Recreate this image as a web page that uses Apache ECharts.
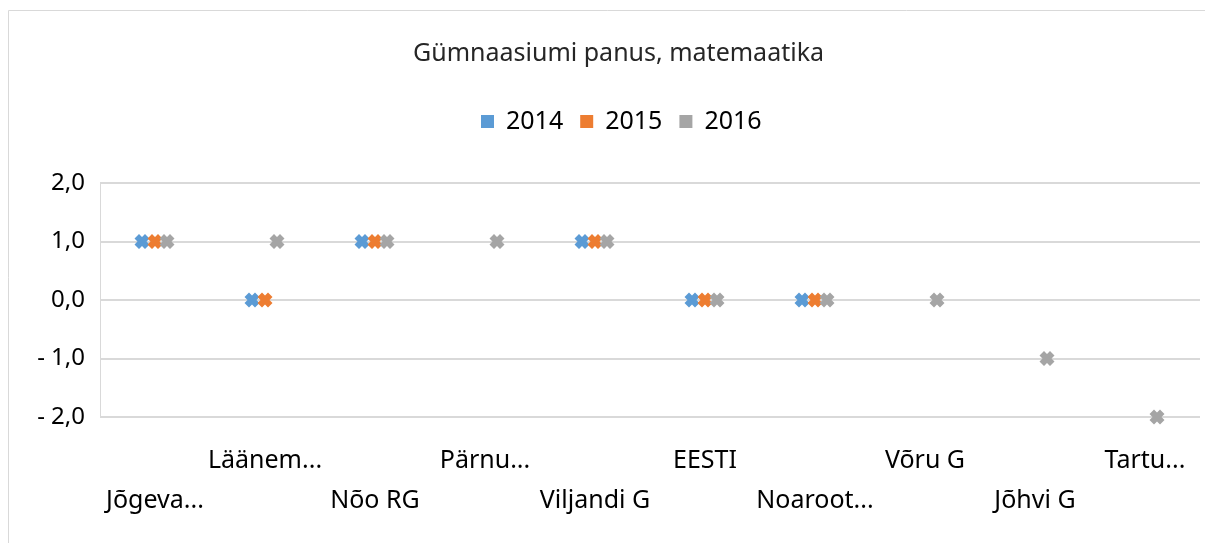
<!DOCTYPE html>
<html>
<head>
<meta charset="utf-8">
<script src="https://cdn.jsdelivr.net/npm/echarts@6/dist/echarts.min.js"></script>
<style>html,body{margin:0;padding:0;background:#fff}#c{width:1205px;height:543px}</style>
</head>
<body>
<div id="c"></div>
<script>
const title = 'Gümnaasiumi panus, matemaatika';
const categories = ['Jõgeva...', 'Läänem...', 'Nõo RG', 'Pärnu...', 'Viljandi G', 'EESTI', 'Noaroot...', 'Võru G', 'Jõhvi G', 'Tartu...'];
const seriesNames = ['2014', '2015', '2016'];
const v2014 = [1, 0, 1, null, 1, 0, 0, null, null, null];
const v2015 = [1, 0, 1, null, 1, 0, 0, null, null, null];
const v2016 = [1, 1, 1, 1, 1, 0, 0, 0, -1, -2];
const colors = ['#5B9BD5', '#ED7D31', '#A5A5A5'];
const offsets = [-13, 0, 12];

const xPath = 'path://M0,3 L3,0 L5,2 L7,0 L10,3 L8,5 L10,7 L7,10 L5,8 L3,10 L0,7 L2,5 Z';

const chart = echarts.init(document.getElementById('c'));
const allData = [v2014, v2015, v2016];
chart.setOption({
  animation: false,
  title: {
    text: title, left: 408, top: 36,
    textStyle: { fontFamily: 'Noto Sans', fontSize: 25, fontWeight: 'normal', color: '#262626' }
  },
  legend: {
    top: 104, left: 476, itemGap: 17, itemWidth: 13, itemHeight: 13,
    icon: 'rect',
    textStyle: { fontFamily: 'Noto Sans', fontSize: 25, color: '#000', padding: [0, 0, 0, 7] },
    data: seriesNames
  },
  grid: { left: 100, right: 5, top: 183, bottom: 126, containLabel: false },
  graphic: [{
    type: 'rect', shape: { x: 8.5, y: 10.5, width: 1300, height: 700 },
    style: { fill: 'none', stroke: '#d9d9d9', lineWidth: 1 }, silent: true
  }],
  xAxis: {
    type: 'category', data: categories,
    axisLine: { show: false }, axisTick: { show: false },
    axisLabel: {
      interval: 0, margin: 24, lineHeight: 40, hideOverlap: false,
      fontFamily: 'Noto Sans', fontSize: 25, color: '#000',
      formatter: (v, i) => (i % 2 === 0 ? '\n' + v : v)
    }
  },
  yAxis: {
    type: 'value', min: -2, max: 2, interval: 1,
    axisLine: { show: true, lineStyle: { color: '#d9d9d9', width: 1 } },
    axisTick: { show: false },
    splitLine: { lineStyle: { color: '#d9d9d9', width: 2 } },
    axisLabel: {
      margin: 15, fontFamily: 'Noto Sans', fontSize: 24, color: '#000',
      formatter: v => (v < 0 ? '- ' + Math.abs(v).toFixed(1) : v.toFixed(1)).replace('.', ',')
    }
  },
  series: seriesNames.map((n, k) => ({
    name: n, type: 'scatter', data: allData[k],
    symbol: xPath, symbolSize: 15, symbolOffset: [offsets[k], 0],
    itemStyle: { color: colors[k], opacity: 1 }, clip: false
  }))
});
</script>
</body>
</html>
